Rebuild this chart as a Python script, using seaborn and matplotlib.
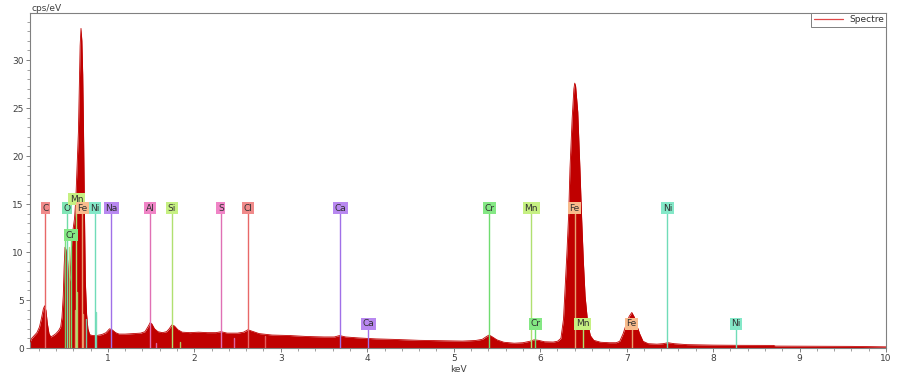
import matplotlib
matplotlib.use("Agg")
import matplotlib.pyplot as plt
from matplotlib.ticker import MultipleLocator
import seaborn as sns

# ---- spectrum (keV, cps/eV) ----
energy = [0.10, 0.12, 0.15, 0.18, 0.21, 0.235, 0.255, 0.27, 0.285, 0.30, 0.32, 0.34,
          0.37, 0.40, 0.43, 0.455, 0.47, 0.485, 0.495, 0.505, 0.515, 0.525, 0.535,
          0.545, 0.555, 0.565, 0.575, 0.585, 0.60, 0.615, 0.63, 0.645, 0.66, 0.67,
          0.68, 0.69, 0.70, 0.71, 0.72, 0.73, 0.74, 0.755, 0.77, 0.79, 0.82, 0.87,
          0.93, 0.98, 1.02, 1.05, 1.09, 1.13, 1.2, 1.3, 1.38, 1.43, 1.47, 1.49, 1.51,
          1.54, 1.58, 1.63, 1.68, 1.71, 1.74, 1.77, 1.81, 1.86, 1.95, 2.05, 2.15,
          2.25, 2.31, 2.38, 2.5, 2.57, 2.62, 2.67, 2.75, 2.9, 3.1, 3.3, 3.5, 3.62,
          3.68, 3.75, 3.9, 4.1, 4.3, 4.6, 4.9, 5.1, 5.25, 5.33, 5.38, 5.41, 5.44,
          5.5, 5.58, 5.7, 5.8, 5.88, 5.93, 5.98, 6.05, 6.15, 6.2, 6.24, 6.27, 6.29,
          6.31, 6.33, 6.345, 6.37, 6.39, 6.40, 6.41, 6.435, 6.46, 6.48, 6.50, 6.52,
          6.55, 6.58, 6.62, 6.7, 6.8, 6.88, 6.92, 6.96, 7.0, 7.03, 7.06, 7.09, 7.12,
          7.15, 7.19, 7.25, 7.35, 7.42, 7.48, 7.55, 7.7, 8.0, 8.3, 8.7, 8.72, 9.2,
          9.6, 10.0]
counts = [0.6, 1.0, 1.3, 1.6, 2.2, 3.2, 4.1, 4.4, 3.9, 2.6, 1.5, 1.15,
          1.3, 1.5, 1.8, 2.2, 3.2, 5.5, 8.5, 10.5, 10.3, 9.8, 9.2,
          7.5, 6.8, 7.5, 9.5, 11.5, 12.5, 13.5, 15.5, 19.0, 22.5, 27.0,
          31.5, 33.3, 32.0, 28.5, 22.0, 14.0, 7.0, 3.5, 2.0, 1.4, 1.3, 1.3,
          1.4, 1.6, 2.0, 1.9, 1.6, 1.45, 1.45, 1.5, 1.55, 1.7, 2.3, 2.65, 2.5,
          2.0, 1.7, 1.6, 1.7, 2.0, 2.4, 2.3, 1.9, 1.65, 1.6, 1.65, 1.6,
          1.6, 1.7, 1.55, 1.55, 1.65, 1.9, 1.75, 1.5, 1.35, 1.3, 1.2, 1.15, 1.15,
          1.3, 1.15, 1.05, 0.95, 0.9, 0.8, 0.75, 0.72, 0.78, 0.9, 1.2, 1.35, 1.2,
          0.85, 0.6, 0.5, 0.55, 0.7, 0.85, 0.8, 0.65, 0.62, 0.7, 1.0, 3.0, 6.4,
          10.0, 14.0, 18.7, 23.9, 27.0, 27.6, 27.3, 24.6, 18.7, 13.5, 9.0, 5.4,
          2.6, 1.3, 0.8, 0.6, 0.55, 0.55, 0.7, 1.5, 2.6, 3.3, 3.7, 3.2, 2.3,
          1.5, 0.7, 0.45, 0.4, 0.45, 0.55, 0.45, 0.35, 0.3, 0.28, 0.27, 0.2, 0.18,
          0.17, 0.12]

# ---- element markers ----
mark_names = ['C', 'O', 'Cr', 'Mn', 'Fe', 'Ni', 'Na', 'Al', 'Si', 'S', 'Cl',
              'Ca', 'Ca', 'Cr', 'Cr', 'Mn', 'Mn', 'Fe', 'Fe', 'Ni', 'Ni']
mark_energy = [0.277, 0.525, 0.573, 0.637, 0.705, 0.851, 1.041, 1.486, 1.740,
               2.307, 2.622, 3.690, 4.012, 5.411, 5.946, 5.898, 6.490, 6.398,
               7.057, 7.471, 8.264]
mark_row = ['top', 'top', 'mid', 'high', 'top', 'top', 'top', 'top', 'top', 'top',
            'top', 'top', 'low', 'top', 'low', 'top', 'low', 'top', 'low', 'top', 'low']

# minor lines (energy, height)
stick_names = ['Cr', 'Mn', 'Fe', 'Mn', 'Fe', 'Ni', 'Ni', 'Al', 'Si', 'S', 'Cl']
stick_energy = [0.500, 0.556, 0.615, 0.649, 0.718, 0.743, 0.869, 1.557, 1.836, 2.464, 2.815]
stick_height = [11.2, 10.5, 4.0, 5.8, 3.5, 3.0, 3.8, 0.5, 0.6, 1.0, 1.3]

elem_color = {'C': '#f08a8a', 'O': '#80e6b6', 'Cr': '#84e884', 'Mn': '#c6f082',
              'Fe': '#f8bb8c', 'Ni': '#84e8c8', 'Na': '#b888f0', 'Al': '#f084c6',
              'Si': '#c6f082', 'S': '#f084c6', 'Cl': '#f08a8a', 'Ca': '#b888f0'}
line_color = {'C': '#e86868', 'O': '#70dca8', 'Cr': '#70dc70', 'Mn': '#b0e070',
              'Fe': '#e8a070', 'Ni': '#70dcb8', 'Na': '#a070e8', 'Al': '#e070b4',
              'Si': '#b0e070', 'S': '#e070b4', 'Cl': '#e86868', 'Ca': '#a070e8'}
row_y = {'top': 14.57, 'high': 15.5, 'mid': 11.74, 'low': 2.52}
row_line = {'top': 14.05, 'high': 15.0, 'mid': 11.2, 'low': 2.0}

sns.set_theme(style='white')
plt.rcParams['font.family'] = ['DejaVu Sans']

fig = plt.figure(figsize=(9.03, 3.75), dpi=100)
ax = fig.add_axes([0.0332, 0.072, 0.948, 0.8933])

spec_col = '#c00000'
ax.fill_between(energy, counts, 0, color=spec_col, linewidth=0, zorder=2)
sns.lineplot(x=energy, y=counts, ax=ax, color=spec_col, linewidth=0.6,
             label='Spectre', zorder=3, sort=False)

for n, e, h in zip(stick_names, stick_energy, stick_height):
    ax.plot([e, e], [0, h], color=line_color[n], linewidth=1.0, alpha=0.9, zorder=4)

for n, e, r in zip(mark_names, mark_energy, mark_row):
    ax.plot([e, e], [0, row_line[r]], color=line_color[n], linewidth=1.0, zorder=4)
    ax.text(e, row_y[r], n, ha='center', va='center', fontsize=6.5, color='#303030',
            zorder=6, bbox=dict(boxstyle='square,pad=0.18', fc=elem_color[n], ec='none'))

ax.set_xlim(0.1, 10)
ax.set_ylim(0, 34.9)
ax.xaxis.set_major_locator(MultipleLocator(1))
ax.xaxis.set_minor_locator(MultipleLocator(0.2))
ax.yaxis.set_major_locator(MultipleLocator(5))
ax.yaxis.set_minor_locator(MultipleLocator(1))
ax.set_xticks([1, 2, 3, 4, 5, 6, 7, 8, 9, 10])
ax.set_yticks([0, 5, 10, 15, 20, 25, 30])
ax.tick_params(axis='both', which='major', direction='out', length=3, width=0.7,
               color='#808080', labelsize=6.5, labelcolor='#404040', pad=1.5,
               bottom=True, left=True)
ax.tick_params(axis='both', which='minor', direction='out', length=2, width=0.6,
               color='#909090', bottom=True, left=True)
for s in ax.spines.values():
    s.set_color('#808080')
    s.set_linewidth(0.8)
ax.set_xlabel('')
ax.set_ylabel('')

fig.text(0.0354, 0.978, 'cps/eV', fontsize=6.5, color='#404040', ha='left', va='center')
fig.text(0.508, 0.014, 'keV', fontsize=6.5, color='#404040', ha='center', va='center')

leg = ax.legend(loc='upper right', borderaxespad=0, fancybox=False, framealpha=1,
                edgecolor='#808080', fontsize=6.5, handlelength=3.3, borderpad=0.25,
                handletextpad=0.6)
leg.get_frame().set_linewidth(0.7)
for t in leg.get_texts():
    t.set_color('#303030')
for h in leg.get_lines():
    h.set_color('#e04848')
    h.set_linewidth(0.9)

fig.savefig('out.png', dpi=100)
